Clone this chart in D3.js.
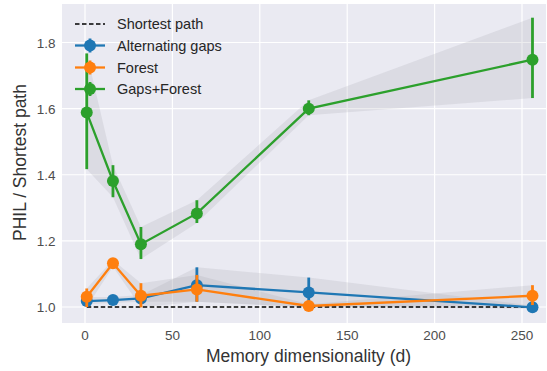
<!DOCTYPE html>
<html>
<head>
<meta charset="utf-8">
<script src="https://cdn.jsdelivr.net/npm/d3@7"></script>
<style>
  body { margin: 0; background: #fff; }
  text { font-family: "Liberation Sans", Arial, sans-serif; }
</style>
</head>
<body>
<svg id="chart"></svg>
<script>
const dims = [1, 16, 32, 64, 128, 256];

const gapsMean = [1.018, 1.021, 1.026, 1.066, 1.044, 0.999];
const gapsLo   = [1.008, 1.012, 1.016, 1.016, 1.000, 0.995];
const gapsHi   = [1.030, 1.030, 1.036, 1.120, 1.089, 1.004];

const forestMean = [1.031, 1.132, 1.034, 1.053, 1.003, 1.034];
const forestLo   = [1.000, 1.122, 0.999, 1.016, 0.998, 1.006];
const forestHi   = [1.056, 1.142, 1.072, 1.097, 1.008, 1.066];

const bothMean = [1.588, 1.381, 1.190, 1.283, 1.600, 1.748];
const bothLo   = [1.417, 1.332, 1.145, 1.254, 1.580, 1.632];
const bothHi   = [1.767, 1.429, 1.242, 1.323, 1.625, 1.875];

const xTicks = [0, 50, 100, 150, 200, 250];
const yTicks = [1.0, 1.2, 1.4, 1.6, 1.8];

const seriesNames = ['Alternating gaps', 'Forest', 'Gaps+Forest'];
const colors = ['#1f77b4', '#ff7f0e', '#2ca02c'];

const width = 547, height = 371;
const plot = {left: 62, right: 546, top: 4, bottom: 323};

const svg = d3.select('#chart').attr('width', width).attr('height', height);

// 0 -> x 85, 250 -> x 522
const x = d3.scaleLinear().domain([0, 250]).range([85, 522]);
const y = d3.scaleLinear().domain([1.0, 1.8]).range([307, 42.5]);

svg.append('rect')
    .attr('x', plot.left).attr('y', plot.top)
    .attr('width', plot.right - plot.left).attr('height', plot.bottom - plot.top)
    .attr('fill', '#eaeaf2');

// grid
svg.append('g').selectAll('line').data(xTicks).enter().append('line')
    .attr('x1', d => x(d)).attr('x2', d => x(d))
    .attr('y1', plot.top).attr('y2', plot.bottom)
    .attr('stroke', '#fff').attr('stroke-width', 1.2);
svg.append('g').selectAll('line').data(yTicks).enter().append('line')
    .attr('y1', d => y(d)).attr('y2', d => y(d))
    .attr('x1', plot.left).attr('x2', plot.right)
    .attr('stroke', '#fff').attr('stroke-width', 1.2);

// tick labels
svg.append('g').selectAll('text').data(xTicks).enter().append('text')
    .attr('x', d => x(d)).attr('y', 339.5)
    .attr('text-anchor', 'middle')
    .attr('font-size', 13.5).attr('fill', '#4d4d4d')
    .text(d => d);
svg.append('g').selectAll('text').data(yTicks).enter().append('text')
    .attr('x', 55.5).attr('y', d => y(d) + 5)
    .attr('text-anchor', 'end')
    .attr('font-size', 13.5).attr('fill', '#4d4d4d')
    .text(d => d.toFixed(1));

svg.append('text')
    .attr('x', 308.5).attr('y', 361.5)
    .attr('text-anchor', 'middle')
    .attr('font-size', 17.5).attr('fill', '#333')
    .text('Memory dimensionality (d)');
svg.append('text')
    .attr('transform', 'translate(26,162.5) rotate(-90)')
    .attr('text-anchor', 'middle')
    .attr('font-size', 17.5).attr('fill', '#333')
    .text('PHIL / Shortest path');

const series = [
    {mean: gapsMean, lo: gapsLo, hi: gapsHi},
    {mean: forestMean, lo: forestLo, hi: forestHi},
    {mean: bothMean, lo: bothLo, hi: bothHi}
];

const area = d3.area()
    .x(d => x(d.d)).y0(d => y(d.lo)).y1(d => y(d.hi));
const line = d3.line().x(d => x(d.d)).y(d => y(d.m));

// bands
series.forEach(s => {
    const pts = dims.map((d, i) => ({d, lo: s.lo[i], hi: s.hi[i]}));
    svg.append('path').attr('d', area(pts))
        .attr('fill', '#a0a0a8').attr('fill-opacity', 0.2);
});

// shortest path baseline
svg.append('line')
    .attr('x1', x(dims[0])).attr('x2', x(dims[dims.length - 1]))
    .attr('y1', y(1.0)).attr('y2', y(1.0))
    .attr('stroke', '#000').attr('stroke-width', 1.5)
    .attr('stroke-dasharray', '4.5,2.5');

series.forEach((s, k) => {
    const g = svg.append('g');
    const pts = dims.map((d, i) => ({d, m: s.mean[i], lo: s.lo[i], hi: s.hi[i]}));
    g.append('path').attr('d', line(pts))
        .attr('fill', 'none').attr('stroke', colors[k]).attr('stroke-width', 2.3);
    g.selectAll('line').data(pts).enter().append('line')
        .attr('x1', d => x(d.d)).attr('x2', d => x(d.d))
        .attr('y1', d => y(d.lo)).attr('y2', d => y(d.hi))
        .attr('stroke', colors[k]).attr('stroke-width', 2.8);
    g.selectAll('circle').data(pts).enter().append('circle')
        .attr('cx', d => x(d.d)).attr('cy', d => y(d.m)).attr('r', 6)
        .attr('fill', colors[k]);
});

// legend
const legend = svg.append('g');
const rowY = [24, 45.5, 67.5, 89];
legend.append('line')
    .attr('x1', 75).attr('x2', 105).attr('y1', rowY[0]).attr('y2', rowY[0])
    .attr('stroke', '#000').attr('stroke-width', 1.5).attr('stroke-dasharray', '4.5,2.5');
legend.append('text').attr('x', 117).attr('y', rowY[0] + 5)
    .attr('font-size', 14.5).attr('fill', '#262626').text('Shortest path');
seriesNames.forEach((name, k) => {
    const yy = rowY[k + 1];
    legend.append('line').attr('x1', 75).attr('x2', 105).attr('y1', yy).attr('y2', yy)
        .attr('stroke', colors[k]).attr('stroke-width', 2.3);
    legend.append('line').attr('x1', 90).attr('x2', 90).attr('y1', yy - 7).attr('y2', yy + 7)
        .attr('stroke', colors[k]).attr('stroke-width', 2.8);
    legend.append('circle').attr('cx', 90).attr('cy', yy).attr('r', 6).attr('fill', colors[k]);
    legend.append('text').attr('x', 117).attr('y', yy + 5)
        .attr('font-size', 14.5).attr('fill', '#262626').text(name);
});
</script>
</body>
</html>
